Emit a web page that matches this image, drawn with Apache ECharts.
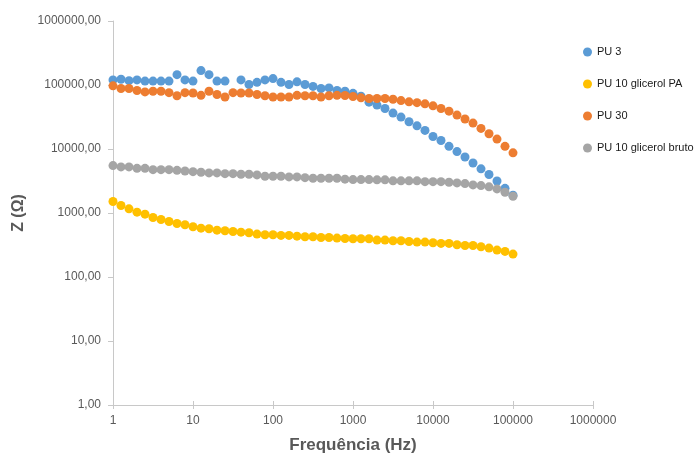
<!DOCTYPE html>
<html>
<head>
<meta charset="utf-8">
<script src="https://cdn.jsdelivr.net/npm/echarts@6/dist/echarts.min.js"></script>
<style>
html,body{margin:0;padding:0;background:#fff;}
#chart{width:698px;height:459px;}
</style>
</head>
<body>
<div id="chart"></div>
<script>
const freq = [1, 1.259, 1.585, 1.995, 2.512, 3.162, 3.981, 5.012, 6.31, 7.943,
  10, 12.59, 15.85, 19.95, 25.12, 31.62, 39.81, 50.12, 63.1, 79.43,
  100, 125.9, 158.5, 199.5, 251.2, 316.2, 398.1, 501.2, 631, 794.3,
  1000, 1259, 1585, 1995, 2512, 3162, 3981, 5012, 6310, 7943,
  10000, 12589, 15849, 19953, 25119, 31623, 39811, 50119, 63096, 79433, 100000];

const pu3 = [120000, 123000, 117000, 120000, 115000, 115000, 115000, 115000, 145000, 120000,
  115000, 168000, 145000, 115000, 115000, null, 120000, 102000, 110000, 120000,
  126000, 110000, 102000, 112000, 102000, 95000, 88000, 90000, 82000, 80000,
  74000, 67000, 54000, 48500, 43000, 36400, 31500, 26700, 23000, 19500,
  15700, 13600, 11000, 9100, 7500, 6050, 4900, 4000, 3160, 2430, 1900];

const pu10PA = [1510, 1310, 1160, 1030, 960, 851, 792, 737, 686, 655,
  609, 580, 567, 540, 527, 515, 502, 491, 468, 457,
  457, 446, 446, 435, 425, 425, 415, 415, 405, 400,
  396, 396, 396, 377, 377, 368, 368, 359, 351, 351,
  343, 335, 335, 319, 311, 311, 297, 283, 263, 251, 228];

const pu30 = [97000, 88000, 88000, 82000, 78000, 80000, 80000, 76000, 68000, 76000,
  75000, 69000, 80000, 71000, 65000, 76000, 75000, 75000, 71000, 68000,
  65000, 65000, 65000, 69000, 68000, 68000, 65000, 68000, 69000, 68500,
  66000, 63000, 61500, 61500, 61500, 60000, 57000, 54600, 53000, 50800,
  47300, 43000, 39000, 33900, 29400, 25400, 21000, 17300, 14300, 11000, 8700];

const pu10Bruto = [5500, 5250, 5250, 4990, 4990, 4760, 4760, 4760, 4640, 4540,
  4430, 4330, 4230, 4230, 4120, 4120, 4030, 4030, 3940, 3750,
  3750, 3750, 3660, 3660, 3570, 3490, 3490, 3490, 3490, 3380,
  3330, 3330, 3330, 3300, 3300, 3180, 3180, 3180, 3180, 3090,
  3090, 3090, 3020, 2950, 2880, 2750, 2680, 2560, 2380, 2110, 1830];

const seriesNames = ['PU 3', 'PU 10 glicerol PA', 'PU 30', 'PU 10 glicerol bruto'];
const seriesValues = [pu3, pu10PA, pu30, pu10Bruto];
const seriesColors = ['#5B9BD5', '#FFC000', '#ED7D31', '#A5A5A5'];

const xTicks = [1, 10, 100, 1000, 10000, 100000, 1000000];
const yTicks = [1, 10, 100, 1000, 10000, 100000, 1000000];

function pairs(vals) {
  const out = [];
  for (let i = 0; i < freq.length; i++) {
    if (vals[i] != null) out.push([freq[i], vals[i]]);
  }
  return out;
}

const chart = echarts.init(document.getElementById('chart'), null, {renderer: 'canvas'});
const axisColor = '#c8c8c8';
const labelColor = '#595959';
const font = '"Liberation Sans", Arial, sans-serif';

chart.setOption({
  animation: false,
  backgroundColor: '#ffffff',
  grid: {left: 113, right: 105, top: 21, bottom: 53, containLabel: false},
  legend: {
    orient: 'vertical',
    left: 578,
    top: 40,
    itemGap: 18,
    itemWidth: 9,
    itemHeight: 9,
    icon: 'circle',
    data: seriesNames,
    textStyle: {fontFamily: font, fontSize: 11, color: '#1a1a1a', lineHeight: 14}
  },
  xAxis: [{
    type: 'log',
    logBase: 10,
    min: xTicks[0],
    max: xTicks[xTicks.length - 1],
    name: 'Frequência (Hz)',
    nameLocation: 'middle',
    nameGap: 32,
    nameTextStyle: {fontFamily: font, fontSize: 17, fontWeight: 'bold', color: labelColor},
    axisLine: {show: true, lineStyle: {color: axisColor, width: 1}},
    axisTick: {show: true, length: 4, lineStyle: {color: axisColor}},
    splitLine: {show: false},
    minorTick: {show: false},
    axisLabel: {fontFamily: font, fontSize: 12, color: labelColor, margin: 10,
      formatter: v => String(Math.round(v))}
  }, {
    type: 'log',
    logBase: 10,
    position: 'bottom',
    min: xTicks[0],
    max: xTicks[xTicks.length - 1],
    axisLine: {show: false},
    axisTick: {show: true, inside: true, length: 4, lineStyle: {color: axisColor}},
    axisLabel: {show: false},
    splitLine: {show: false}
  }],
  yAxis: {
    type: 'log',
    logBase: 10,
    min: yTicks[0],
    max: yTicks[yTicks.length - 1],
    name: 'Z (Ω)',
    nameLocation: 'middle',
    nameGap: 86,
    nameRotate: 90,
    nameTextStyle: {fontFamily: font, fontSize: 16, fontWeight: 'bold', color: labelColor},
    axisLine: {show: true, lineStyle: {color: axisColor, width: 1}},
    axisTick: {show: true, length: 5, lineStyle: {color: axisColor}},
    splitLine: {show: false},
    axisLabel: {fontFamily: font, fontSize: 12, color: labelColor, margin: 12,
      formatter: v => Number(v).toFixed(2).replace('.', ',')}
  },
  series: seriesNames.map((name, k) => ({
    name: name,
    type: 'scatter',
    xAxisIndex: 0,
    symbol: 'circle',
    symbolSize: 9,
    itemStyle: {color: seriesColors[k], opacity: 1},
    emphasis: {disabled: true},
    data: pairs(seriesValues[k])
  }))
});
</script>
</body>
</html>
